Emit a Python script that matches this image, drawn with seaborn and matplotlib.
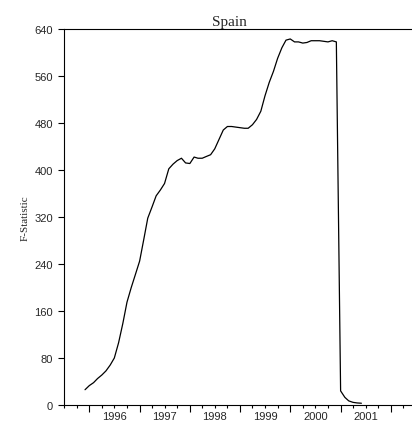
import numpy as np
import pandas as pd
import matplotlib
matplotlib.use("Agg")
import matplotlib.pyplot as plt
import matplotlib.dates as mdates
import seaborn as sns

# monthly F-statistic, 1995M12 .. 2001M6
start_month = "1995-12-01"
f_stat = [
    26,                                                    # 1995
    33, 38, 45, 51, 58, 68, 80, 106, 139, 175, 200, 222,   # 1996
    245, 283, 318, 337, 356, 366, 377, 402, 410, 416, 420, 412,  # 1997
    411, 422, 420, 420, 423, 426, 436, 452, 468, 474, 474, 473,  # 1998
    472, 471, 471, 477, 486, 500, 526, 549, 568, 590, 608, 621,  # 1999
    623, 618, 618, 616, 617, 620, 620, 620, 619, 618, 620, 618,  # 2000
    24, 13, 7, 4.5, 3.5, 3,                                # 2001
]
year_labels = ["1996", "1997", "1998", "1999", "2000", "2001"]
y_ticks = [0, 80, 160, 240, 320, 400, 480, 560, 640]

df = pd.DataFrame({
    "date": pd.date_range(start_month, periods=len(f_stat), freq="MS"),
    "F": f_stat,
})

sns.set_style("ticks")
plt.rcParams["font.family"] = ["Liberation Sans", "DejaVu Sans"]

fig = plt.figure(figsize=(4.12, 4.27), dpi=100)
ax = fig.add_axes([0.1553, 0.0492, 0.8447, 0.8806])

sns.lineplot(data=df, x="date", y="F", ax=ax, color="black", linewidth=0.9)

ax.set_xlim(pd.Timestamp("1995-07-01"), pd.Timestamp("2002-06-04"))
ax.set_ylim(0, 640)
ax.set_yticks(y_ticks)
ax.tick_params(axis="y", labelsize=8, length=4, width=0.8, pad=4, color="black")

# year boundaries as long ticks, quarters as short ones
ax.xaxis.set_major_locator(mdates.YearLocator())
ax.xaxis.set_minor_locator(mdates.MonthLocator(bymonth=[4, 7, 10]))
ax.xaxis.set_major_formatter(plt.NullFormatter())
ax.tick_params(axis="x", which="major", length=5, width=0.8, color="black")
ax.tick_params(axis="x", which="minor", length=2.5, width=0.8, color="black")

# year labels sit in the middle of each year
for lab in year_labels:
    ax.text(mdates.date2num(pd.Timestamp(f"{lab}-07-01")), -0.017, lab,
            transform=ax.get_xaxis_transform(), ha="center", va="top", fontsize=8)

for side in ["left", "bottom", "top"]:
    ax.spines[side].set_color("black")
    ax.spines[side].set_linewidth(0.8)
ax.spines["right"].set_visible(False)

ax.set_xlabel("")
ax.set_ylabel("F-Statistic", family="Liberation Serif", fontsize=8, labelpad=3)
ax.set_title("Spain", family="Liberation Serif", fontsize=11, pad=3, x=0.474)

plt.savefig("out.png", dpi=100)
